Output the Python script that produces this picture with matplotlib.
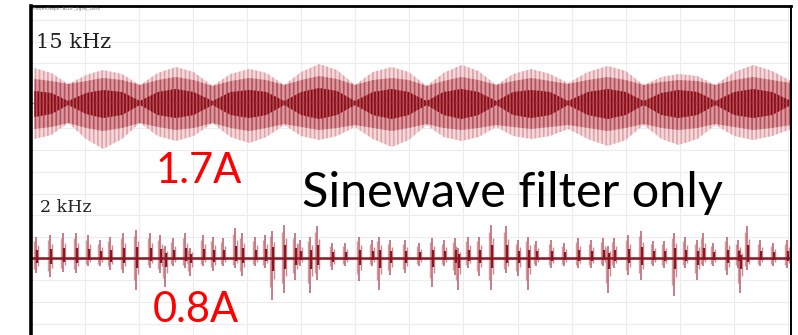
import numpy as np
import matplotlib
matplotlib.use("Agg")
import matplotlib.pyplot as plt

# 15 kHz trace: envelope (px above / below the trace centre)
# sample points go lobe, shoulder, waist, shoulder, lobe ...
env_x = [0, 17, 34, 52, 69, 88, 106, 124, 142, 160, 179, 197, 216, 233, 251, 268,
         286, 304, 322, 340, 359, 376, 394, 411, 429, 446, 464, 481, 499, 518, 536,
         556, 576, 594, 612, 630, 647, 666, 684, 703, 722, 741, 760]
pink_top = [35, 30, 19, 28, 33, 29, 18, 30, 36, 31, 17, 29, 34, 30, 18, 31, 39, 33, 18, 31,
            36, 31, 17, 30, 38, 32, 18, 29, 34, 29, 20, 31, 37, 32, 18, 26, 29, 27, 18, 31,
            38, 32, 22]
pink_bot = [36, 32, 20, 36, 46, 36, 20, 33, 38, 33, 20, 34, 40, 34, 22, 33, 37, 33, 24, 36,
            44, 37, 22, 34, 38, 34, 24, 33, 36, 33, 26, 36, 43, 37, 22, 36, 42, 36, 22, 33,
            37, 33, 26]
mid_top = [24, 22, 19, 22, 25, 23, 18, 23, 26, 23, 17, 22, 25, 23, 18, 23, 27, 24, 18, 23,
           25, 23, 17, 22, 26, 23, 18, 22, 25, 22, 19, 23, 26, 23, 18, 21, 23, 22, 18, 23,
           26, 23, 20]
mid_bot = [26, 24, 20, 25, 28, 25, 20, 24, 27, 25, 20, 25, 28, 25, 21, 24, 27, 25, 22, 25,
           28, 25, 21, 25, 27, 25, 22, 24, 26, 24, 22, 25, 28, 25, 21, 25, 27, 25, 21, 24,
           27, 25, 22]
core_top = [12, 10, 2, 10, 13, 11, 2, 11, 14, 11, 2, 11, 13, 11, 2, 11, 15, 12, 2, 11,
            14, 11, 2, 11, 14, 11, 2, 11, 13, 11, 2, 11, 14, 11, 2, 10, 13, 11, 2, 11,
            14, 11, 2]
core_bot = [14, 11, 2, 11, 15, 12, 2, 12, 15, 12, 2, 12, 15, 12, 2, 12, 16, 12, 2, 12,
            16, 12, 2, 12, 16, 12, 2, 12, 15, 12, 2, 12, 16, 12, 2, 12, 15, 12, 2, 12,
            15, 12, 2]

# 2 kHz trace: spike position and how far each spike reaches up / down (px)
spike_x = [2, 16, 29, 42, 54, 66, 76, 89, 102, 116, 126, 131, 139, 151, 156, 169, 179,
           189, 202, 209, 222, 232, 239, 251, 262, 267, 277, 284, 299, 312, 326, 339,
           346, 357, 372, 386, 399, 411, 422, 426, 436, 447, 459, 474, 486, 496, 504,
           519, 532, 546, 559, 571, 576, 582, 596, 609, 621, 632, 642, 654, 666, 672,
           682, 696, 707, 709, 716, 729, 742, 756]
spike_up = [21, 23, 25, 25, 23, 18, 21, 25, 28, 25, 23, 12, 20, 25, 10, 23, 21, 20, 30,
            25, 21, 23, 27, 33, 25, 18, 21, 32, 15, 15, 21, 18, 21, 18, 18, 15, 20, 18,
            20, 10, 21, 21, 33, 32, 18, 21, 17, 18, 15, 20, 18, 20, 12, 20, 23, 27, 17,
            17, 25, 21, 18, 25, 15, 21, 18, 8, 32, 18, 15, 18]
spike_down = [15, 19, 14, 15, 8, 8, 12, 15, 32, 10, 15, 29, 8, 10, 18, 8, 13, 8, 10, 18,
              8, 10, 42, 35, 22, 8, 35, 22, 12, 8, 23, 8, 32, 17, 15, 8, 29, 8, 17, 32,
              10, 18, 32, 15, 18, 32, 8, 10, 8, 10, 10, 8, 35, 10, 17, 22, 8, 10, 38, 10,
              22, 8, 8, 17, 10, 35, 12, 8, 8, 10]

top_centre = 232
bottom_base = 77

fig = plt.figure(figsize=(7.98, 3.35), dpi=100)
ax = fig.add_axes([31 / 798, 0, 760 / 798, 329 / 335])
ax.set_xlim(0, 760)
ax.set_ylim(0, 329)

# faint scope grid
ax.set_xticks(np.arange(-3.4, 760, 54.3))
ax.set_yticks(np.arange(315, 0, -21.7))
ax.grid(True, color="#ebebf1", linewidth=0.8)
ax.set_axisbelow(True)
ax.tick_params(length=0, labelbottom=False, labelleft=False)
ax.spines["left"].set_linewidth(2.6)
ax.spines["top"].set_linewidth(2.0)
ax.spines["right"].set_linewidth(1.4)
ax.spines["bottom"].set_visible(False)

x = np.array(env_x)
c = top_centre
plt.rcParams["hatch.linewidth"] = 1.2
ax.fill_between(x, c - np.array(pink_bot), c + np.array(pink_top),
                facecolor="#f4dadc", edgecolor="#dfa2a8", hatch="||||", linewidth=0)
ax.fill_between(x, c - np.array(mid_bot), c + np.array(mid_top),
                facecolor="#dc9aa0", edgecolor="#b3505a", hatch="||||", linewidth=0)
ax.fill_between(x, c - np.array(core_bot), c + np.array(core_top),
                facecolor="#b9505a", edgecolor="#840a14", hatch="|||||", linewidth=0)
ax.axhline(c, xmin=0, xmax=1, color="#a0303a", linewidth=1.0, alpha=0.6)

# 2 kHz trace
sx = np.array(spike_x)
up = np.array(spike_up)
dn = np.array(spike_down)
b = bottom_base
ax.vlines(sx - 2, b - dn * 0.7, b + up * 0.8, color="#d89aa0", linewidth=1.0)
ax.vlines(sx + 2, b - dn * 0.5, b + up * 0.6, color="#d08890", linewidth=1.0)
ax.vlines(sx, b - dn, b + up, color="#b85a66", linewidth=1.1)
ax.vlines(sx + 1, b - dn * 0.3, b + up * 0.4, color="#8a1620", linewidth=1.6)
ax.axhline(b, color="#8a1620", linewidth=1.8)

def px(xp, yp):
    return xp / 798, 1 - yp / 335

fig.text(*px(33, 9), "PowerGraph: ALDF_2gvd_2kHz", fontsize=3.2, color="#777777", va="center")
fig.text(*px(36, 48), "15 kHz", fontsize=15, family="DejaVu Serif", color="#222222", va="baseline")
fig.text(*px(40, 212), "2 kHz", fontsize=12.5, family="DejaVu Serif", color="#222222", va="baseline")
fig.text(*px(156, 183), "1.7A", fontsize=30, family="Lato", color="#ff0000", va="baseline")
fig.text(*px(153, 322), "0.8A", fontsize=30, family="Lato", color="#ff0000", va="baseline")
fig.text(*px(302, 207), "Sinewave filter only", fontsize=35, family="Lato", color="black", va="baseline")

fig.savefig("out.png", dpi=100)
